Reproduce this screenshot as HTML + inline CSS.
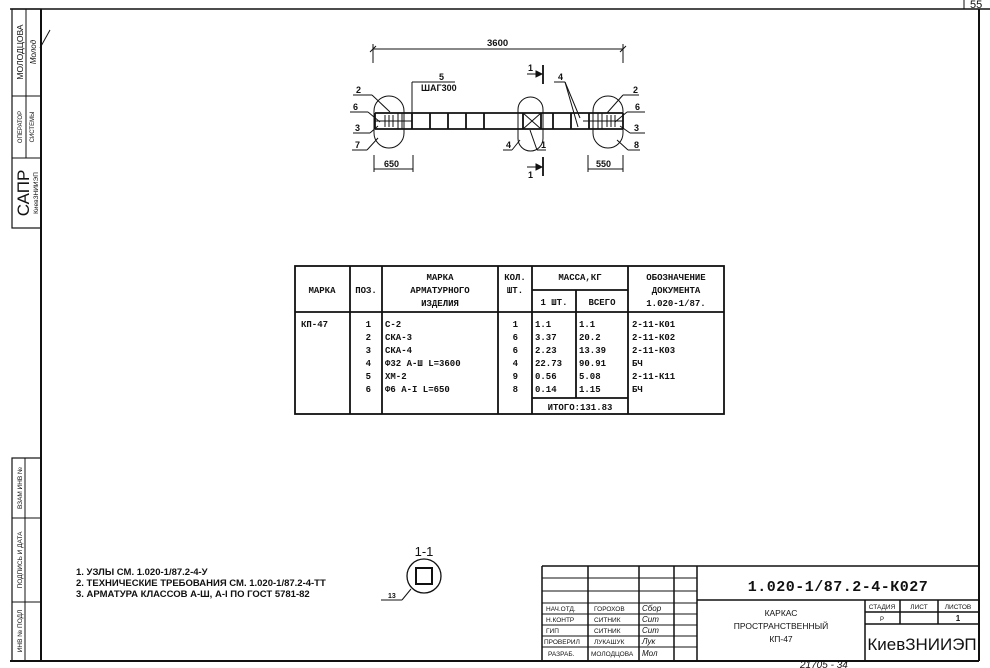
<!DOCTYPE html>
<html><head><meta charset="utf-8"><style>
html,body{margin:0;padding:0;background:#fff}
svg{display:block}
text{font-family:"Liberation Sans","DejaVu Sans",sans-serif;fill:#111}
.m{font-family:"Liberation Mono","DejaVu Sans Mono",monospace;font-weight:bold}
.b{font-weight:bold}
</style></head><body>
<svg width="990" height="668" viewBox="0 0 990 668" xmlns="http://www.w3.org/2000/svg" stroke="#111" fill="none">
<line x1="10" y1="9" x2="990" y2="9" stroke-width="1.5"/>
<line x1="41" y1="9" x2="41" y2="661" stroke-width="2"/>
<line x1="979" y1="9" x2="979" y2="661" stroke-width="2"/>
<line x1="10" y1="661" x2="979" y2="661" stroke-width="2"/>
<line x1="964" y1="0" x2="964" y2="9"/>
<text x="970" y="8" font-size="11" stroke="none">55</text>
<rect x="12" y="9" width="29" height="219" stroke-width="1.2"/>
<line x1="12" y1="96" x2="41" y2="96"/>
<line x1="12" y1="158" x2="41" y2="158"/>
<line x1="26" y1="9" x2="26" y2="96"/>
<line x1="26" y1="96" x2="26" y2="158"/>
<g stroke="none">
<text transform="translate(23,52) rotate(-90)" font-size="8.5" text-anchor="middle">МОЛОДЦОВА</text>
<text transform="translate(36,52) rotate(-90)" font-size="8" font-style="italic" text-anchor="middle">Молод</text>
<text transform="translate(22,127) rotate(-90)" font-size="6" text-anchor="middle">ОПЕРАТОР</text>
<text transform="translate(34,127) rotate(-90)" font-size="6" text-anchor="middle">СИСТЕМЫ</text>
<text transform="translate(29,193) rotate(-90)" font-size="17" text-anchor="middle">САПР</text>
<text transform="translate(38,193) rotate(-90)" font-size="6.5" text-anchor="middle">КиевЗНИИЭП</text>
</g>
<line x1="40" y1="48" x2="50" y2="30"/>
<rect x="12" y="458" width="29" height="203" stroke-width="1.2"/>
<line x1="12" y1="518" x2="41" y2="518"/>
<line x1="12" y1="602" x2="41" y2="602"/>
<line x1="25" y1="458" x2="25" y2="661"/>
<g stroke="none" font-size="6.5">
<text transform="translate(22,488) rotate(-90)" text-anchor="middle">ВЗАМ ИНВ №</text>
<text transform="translate(22,560) rotate(-90)" text-anchor="middle">ПОДПИСЬ И ДАТА</text>
<text transform="translate(22,631) rotate(-90)" text-anchor="middle">ИНВ № ПОДЛ</text>
</g>

<g stroke-width="1">
<line x1="373" y1="49" x2="623" y2="49"/>
<line x1="373" y1="44" x2="373" y2="63"/><line x1="623" y1="44" x2="623" y2="63"/>
<line x1="370" y1="52" x2="376" y2="46"/><line x1="620" y1="52" x2="626" y2="46"/>
</g>
<text x="487" y="46" font-size="9.5" class="b" stroke="none">3600</text>
<g stroke-width="1.8">
<line x1="375" y1="113" x2="623" y2="113"/>
<line x1="375" y1="129" x2="623" y2="129"/>
<line x1="375" y1="113" x2="375" y2="129"/>
<line x1="623" y1="113" x2="623" y2="129"/>
<line x1="412" y1="113" x2="412" y2="129"/>
<line x1="430" y1="113" x2="430" y2="129"/>
<line x1="448" y1="113" x2="448" y2="129"/>
<line x1="466" y1="113" x2="466" y2="129"/>
<line x1="484" y1="113" x2="484" y2="129"/>
<line x1="523" y1="113" x2="523" y2="129"/>
<line x1="541" y1="113" x2="541" y2="129"/>
<line x1="553" y1="113" x2="553" y2="129"/>
<line x1="571" y1="113" x2="571" y2="129"/>
<line x1="589" y1="113" x2="589" y2="129"/>
</g>
<g stroke-width="1">
<line x1="523" y1="113" x2="541" y2="129"/><line x1="541" y1="113" x2="523" y2="129"/>
<line x1="375" y1="121" x2="412" y2="121"/><line x1="583" y1="121" x2="623" y2="121"/>
<line x1="385" y1="115" x2="385" y2="127"/><line x1="389" y1="115" x2="389" y2="127"/><line x1="393" y1="115" x2="393" y2="127"/>
<line x1="398" y1="113" x2="398" y2="129"/><line x1="402" y1="113" x2="402" y2="129"/>
<line x1="598" y1="113" x2="598" y2="129"/><line x1="602" y1="113" x2="602" y2="129"/>
<line x1="607" y1="115" x2="607" y2="127"/><line x1="611" y1="115" x2="611" y2="127"/><line x1="615" y1="115" x2="615" y2="127"/>
<rect x="374" y="96" width="30" height="52" rx="15"/>
<rect x="518" y="97" width="25" height="54" rx="12.5"/>
<rect x="593" y="96" width="30" height="52" rx="15"/>
<line x1="353" y1="95" x2="372" y2="95"/><line x1="372" y1="95" x2="390" y2="112"/>
<line x1="350" y1="112" x2="368" y2="112"/><line x1="368" y1="112" x2="380" y2="122"/>
<line x1="353" y1="133" x2="370" y2="133"/><line x1="370" y1="133" x2="378" y2="126"/>
<line x1="352" y1="150" x2="367" y2="150"/><line x1="367" y1="150" x2="378" y2="138"/>
<line x1="412" y1="113" x2="412" y2="82"/><line x1="412" y1="82" x2="455" y2="82"/>
<line x1="639" y1="95" x2="623" y2="95"/><line x1="623" y1="95" x2="607" y2="113"/>
<line x1="645" y1="112" x2="627" y2="112"/><line x1="627" y1="112" x2="615" y2="122"/>
<line x1="645" y1="133" x2="630" y2="133"/><line x1="630" y1="133" x2="620" y2="126"/>
<line x1="640" y1="150" x2="628" y2="150"/><line x1="628" y1="150" x2="617" y2="140"/>
<line x1="503" y1="150" x2="512" y2="150"/><line x1="512" y1="150" x2="520" y2="140"/>
<line x1="537" y1="150" x2="546" y2="150"/><line x1="537" y1="150" x2="530" y2="130"/>
<line x1="554" y1="82" x2="565" y2="82"/><line x1="565" y1="82" x2="580" y2="118"/><line x1="565" y1="82" x2="578" y2="127"/>
<line x1="543" y1="65" x2="543" y2="84" stroke-width="1.8"/>
<line x1="527" y1="74" x2="542" y2="74"/><path d="M536 71 L542 74 L536 77Z" fill="#111"/>
<line x1="543" y1="157" x2="543" y2="176" stroke-width="1.8"/>
<line x1="527" y1="167" x2="542" y2="167"/><path d="M536 164 L542 167 L536 170Z" fill="#111"/>
<line x1="374" y1="155" x2="374" y2="172"/><line x1="413" y1="155" x2="413" y2="172"/>
<line x1="374" y1="169" x2="413" y2="169"/>
<line x1="588" y1="155" x2="588" y2="172"/><line x1="623" y1="155" x2="623" y2="172"/>
<line x1="588" y1="169" x2="623" y2="169"/>
</g>
<g stroke="none" font-size="9" class="b">
<text x="439" y="80">5</text>
<text x="421" y="91">ШАГ300</text>
<text x="356" y="93">2</text><text x="353" y="110">6</text><text x="355" y="131">3</text><text x="355" y="148">7</text>
<text x="633" y="93">2</text><text x="635" y="110">6</text><text x="634" y="131">3</text><text x="634" y="148">8</text>
<text x="506" y="148">4</text><text x="541" y="148">1</text>
<text x="558" y="80">4</text>
<text x="528" y="71">1</text><text x="528" y="178">1</text>
<text x="384" y="167">650</text><text x="596" y="167">550</text>
</g>

<g stroke-width="1.8">
<rect x="295" y="266" width="429" height="148"/>
<line x1="295" y1="312" x2="724" y2="312"/>
<line x1="350" y1="266" x2="350" y2="414"/>
<line x1="382" y1="266" x2="382" y2="414"/>
<line x1="498" y1="266" x2="498" y2="414"/>
<line x1="532" y1="266" x2="532" y2="414"/>
<line x1="576" y1="290" x2="576" y2="398"/>
<line x1="628" y1="266" x2="628" y2="414"/>
<line x1="532" y1="290" x2="628" y2="290"/>
<line x1="532" y1="398" x2="628" y2="398"/>
</g>
<g stroke="none" font-size="9">
<text class="m" x="322" y="293" text-anchor="middle">МАРКА</text>
<text class="m" x="366" y="293" text-anchor="middle">ПОЗ.</text>
<text class="m" x="440" y="280" text-anchor="middle">МАРКА</text>
<text class="m" x="440" y="293" text-anchor="middle">АРМАТУРНОГО</text>
<text class="m" x="440" y="306" text-anchor="middle">ИЗДЕЛИЯ</text>
<text class="m" x="515" y="280" text-anchor="middle">КОЛ.</text>
<text class="m" x="515" y="293" text-anchor="middle">ШТ.</text>
<text class="m" x="580" y="280" text-anchor="middle">МАССА,КГ</text>
<text class="m" x="554" y="305" text-anchor="middle">1 ШТ.</text>
<text class="m" x="602" y="305" text-anchor="middle">ВСЕГО</text>
<text class="m" x="676" y="280" text-anchor="middle">ОБОЗНАЧЕНИЕ</text>
<text class="m" x="676" y="293" text-anchor="middle">ДОКУМЕНТА</text>
<text class="m" x="676" y="306" text-anchor="middle">1.020-1/87.</text>
<text class="m" x="301" y="327">КП-47</text>
<g text-anchor="end">
<text class="m" x="371" y="327">1</text><text class="m" x="371" y="340">2</text><text class="m" x="371" y="353">3</text><text class="m" x="371" y="366">4</text><text class="m" x="371" y="379">5</text><text class="m" x="371" y="392">6</text>
<text class="m" x="518" y="327">1</text><text class="m" x="518" y="340">6</text><text class="m" x="518" y="353">6</text><text class="m" x="518" y="366">4</text><text class="m" x="518" y="379">9</text><text class="m" x="518" y="392">8</text>
</g>
<text class="m" x="385" y="327">С-2</text><text class="m" x="385" y="340">СКА-3</text><text class="m" x="385" y="353">СКА-4</text><text class="m" x="385" y="366">Φ32 А-Ш L=3600</text><text class="m" x="385" y="379">ХМ-2</text><text class="m" x="385" y="392">Φ6 А-I L=650</text>
<text class="m" x="535" y="327">1.1</text><text class="m" x="535" y="340">3.37</text><text class="m" x="535" y="353">2.23</text><text class="m" x="535" y="366">22.73</text><text class="m" x="535" y="379">0.56</text><text class="m" x="535" y="392">0.14</text>
<text class="m" x="579" y="327">1.1</text><text class="m" x="579" y="340">20.2</text><text class="m" x="579" y="353">13.39</text><text class="m" x="579" y="366">90.91</text><text class="m" x="579" y="379">5.08</text><text class="m" x="579" y="392">1.15</text>
<text class="m" x="580" y="410" text-anchor="middle">ИТОГО:131.83</text>
<text class="m" x="632" y="327">2-11-К01</text><text class="m" x="632" y="340">2-11-К02</text><text class="m" x="632" y="353">2-11-К03</text><text class="m" x="632" y="366">БЧ</text><text class="m" x="632" y="379">2-11-К11</text><text class="m" x="632" y="392">БЧ</text>
</g>

<g stroke="none" font-size="9.5" class="b">
<text x="76" y="575">1. УЗЛЫ СМ. 1.020-1/87.2-4-У</text>
<text x="76" y="586">2. ТЕХНИЧЕСКИЕ ТРЕБОВАНИЯ СМ. 1.020-1/87.2-4-ТТ</text>
<text x="76" y="597">3. АРМАТУРА КЛАССОВ А-Ш, А-I ПО ГОСТ 5781-82</text>
</g>
<text x="424" y="556" font-size="13" text-anchor="middle" stroke="none">1-1</text>
<circle cx="424" cy="576" r="17" stroke-width="1.3"/>
<rect x="416" y="568" width="16" height="16" stroke-width="2"/>
<line x1="381" y1="600" x2="402" y2="600"/><line x1="402" y1="600" x2="411" y2="589"/>
<text x="388" y="598" font-size="7" class="b" stroke="none">13</text>

<g stroke-width="1.5">
<line x1="542" y1="566" x2="979" y2="566"/>
<line x1="542" y1="566" x2="542" y2="661"/>
<line x1="588" y1="566" x2="588" y2="661"/>
<line x1="639" y1="566" x2="639" y2="661"/>
<line x1="674" y1="566" x2="674" y2="661"/>
<line x1="697" y1="566" x2="697" y2="661"/>
<line x1="697" y1="600" x2="979" y2="600"/>
<line x1="865" y1="600" x2="865" y2="661"/>
<line x1="900" y1="600" x2="900" y2="624"/>
<line x1="938" y1="600" x2="938" y2="624"/>
<line x1="865" y1="612" x2="979" y2="612"/>
<line x1="865" y1="624" x2="979" y2="624"/>
</g>
<g stroke-width="0.9">
<line x1="542" y1="578" x2="697" y2="578"/><line x1="542" y1="591" x2="697" y2="591"/>
<line x1="542" y1="603" x2="697" y2="603"/><line x1="542" y1="614" x2="697" y2="614"/>
<line x1="542" y1="625" x2="697" y2="625"/><line x1="542" y1="636" x2="697" y2="636"/>
<line x1="542" y1="647" x2="697" y2="647"/>
</g>
<g stroke="none" font-size="6.5">
<text x="546" y="611">НАЧ.ОТД.</text><text x="546" y="622">Н.КОНТР</text><text x="546" y="633">ГИП</text><text x="544" y="644">ПРОВЕРИЛ</text><text x="548" y="656">РАЗРАБ.</text>
<text x="594" y="611">ГОРОХОВ</text><text x="594" y="622">СИТНИК</text><text x="594" y="633">СИТНИК</text><text x="594" y="644">ЛУКАШУК</text><text x="591" y="656">МОЛОДЦОВА</text>
<g font-style="italic" font-size="8"><text x="642" y="611">Сбор</text><text x="642" y="622">Сит</text><text x="642" y="633">Сит</text><text x="642" y="644">Лук</text><text x="642" y="656">Мол</text></g>
<text x="838" y="591" font-size="15" text-anchor="middle" class="m" letter-spacing="0.5">1.020-1/87.2-4-К027</text>
<text x="781" y="616" font-size="8.5" text-anchor="middle">КАРКАС</text>
<text x="781" y="629" font-size="8.5" text-anchor="middle">ПРОСТРАНСТВЕННЫЙ</text>
<text x="781" y="642" font-size="8.5" text-anchor="middle">КП-47</text>
<text x="882" y="609" font-size="6.5" text-anchor="middle">СТАДИЯ</text>
<text x="919" y="609" font-size="6.5" text-anchor="middle">ЛИСТ</text>
<text x="958" y="609" font-size="6.5" text-anchor="middle">ЛИСТОВ</text>
<text x="882" y="621" font-size="6" text-anchor="middle">Р</text>
<text x="958" y="621" font-size="8" class="b" text-anchor="middle">1</text>
<text x="922" y="650" font-size="17" text-anchor="middle">КиевЗНИИЭП</text>
<text x="800" y="668" font-size="10" font-style="italic">21705 - 34</text>
</g>
</svg>
</body></html>
